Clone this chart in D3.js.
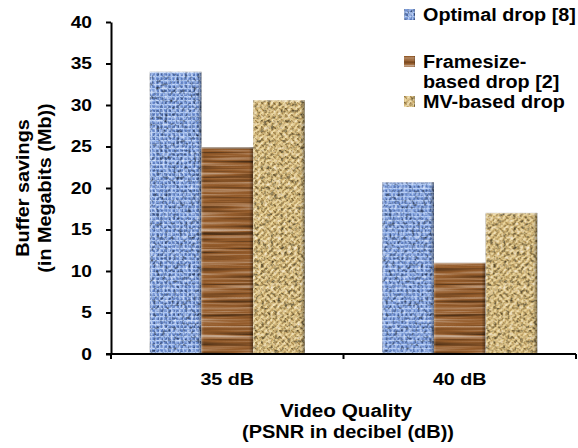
<!DOCTYPE html>
<html>
<head>
<meta charset="utf-8">
<script src="https://cdn.jsdelivr.net/npm/d3@7/dist/d3.min.js"></script>
<style>
  html, body { margin: 0; padding: 0; background: #fff; }
  svg { display: block; }
  text { font-family: "Liberation Sans", Arial, sans-serif; font-weight: bold; fill: #000; }
</style>
</head>
<body>
<svg id="chart" width="578" height="448"></svg>
<script>
// Buffer savings per drop strategy at two video quality levels
const categories = ["35 dB", "40 dB"];
const seriesNames = ["Optimal drop [8]", "Framesize-based drop [2]", "MV-based drop"];
const optimalDrop = [34.0, 20.7];
const framesizeDrop = [24.9, 11.0];
const mvDrop = [30.6, 17.0];
const yTicks = [0, 5, 10, 15, 20, 25, 30, 35, 40];
const legendLines = [["Optimal drop [8]"], ["Framesize-", "based drop [2]"], ["MV-based drop"]];

const seriesValues = [optimalDrop, framesizeDrop, mvDrop];

const svg = d3.select("#chart");
const W = 578, H = 448;
const margin = { left: 111, right: 2, top: 22, bottom: 94 };

// Widen a text run horizontally by a factor, keeping its anchor
function stretch(sel, k) {
  sel.each(function() {
    const n = this.getComputedTextLength();
    d3.select(this).attr("textLength", n * k).attr("lengthAdjust", "spacingAndGlyphs");
  });
}

const x0 = d3.scaleBand().domain(categories).range([margin.left, W - margin.right]).padding(0);
const x1 = d3.scaleBand().domain(d3.range(seriesNames.length)).range([0, x0.bandwidth()])
  .paddingInner(0).paddingOuter(0.75);
const y = d3.scaleLinear().domain([0, 40]).range([H - margin.bottom, margin.top]);

const defs = svg.append("defs");

// Woven blue cloth tile
const pBlue = defs.append("pattern").attr("id", "weaveBlue").attr("patternUnits", "userSpaceOnUse")
  .attr("width", 4).attr("height", 4);
pBlue.append("rect").attr("width", 4).attr("height", 4).attr("fill", "#7c9edf");
pBlue.append("rect").attr("x", 0).attr("y", 0).attr("width", 4).attr("height", 1).attr("fill", "#b0c9f3");
pBlue.append("rect").attr("x", 0).attr("y", 0).attr("width", 1).attr("height", 4).attr("fill", "#a2bcec");
pBlue.append("rect").attr("x", 2).attr("y", 2).attr("width", 2).attr("height", 2).attr("fill", "#5f80c4");

// Basket-weave burlap tile
const pTan = defs.append("pattern").attr("id", "weaveTan").attr("patternUnits", "userSpaceOnUse")
  .attr("width", 6).attr("height", 6);
pTan.append("rect").attr("width", 6).attr("height", 6).attr("fill", "#d4b676");
pTan.append("path").attr("d", "M0,6 L6,0 M-1,1 L1,-1 M5,7 L7,5").attr("stroke", "#ecd89c").attr("stroke-width", 1.4);
pTan.append("path").attr("d", "M0,0 L3,3").attr("stroke", "#a98a4e").attr("stroke-width", 1.2);
pTan.append("path").attr("d", "M3,6 L6,3").attr("stroke", "#bc9c5e").attr("stroke-width", 0.8);

const textures = [
  { id: "tex0", fill: "url(#weaveBlue)", freq: "0.35 0.3", oct: 2, seed: 4 },
  { id: "tex1", fill: "#955c2b", freq: "0.008 0.28", oct: 3, seed: 7 },
  { id: "tex2", fill: "url(#weaveTan)", freq: "0.3 0.3", oct: 2, seed: 11 }
];
textures.forEach(t => {
  const f = defs.append("filter").attr("id", t.id + "f")
    .attr("x", 0).attr("y", 0).attr("width", 1).attr("height", 1)
    .attr("color-interpolation-filters", "sRGB");
  f.append("feTurbulence").attr("type", "fractalNoise").attr("baseFrequency", t.freq)
    .attr("numOctaves", t.oct).attr("seed", t.seed).attr("result", "noise");
  f.append("feColorMatrix").attr("in", "noise").attr("type", "matrix")
    .attr("values", "0.7 0.3 0.1 0 -0.05  0.7 0.3 0.1 0 -0.05  0.7 0.3 0.1 0 -0.05  0 0 0 0 1")
    .attr("result", "gray");
  f.append("feBlend").attr("in", "SourceGraphic").attr("in2", "gray").attr("mode", "overlay").attr("result", "mix");
  f.append("feComposite").attr("in", "mix").attr("in2", "SourceGraphic").attr("operator", "in");
});

// Soft bevel shading on the bar edges
const edge = defs.append("linearGradient").attr("id", "edgeShade").attr("x1", 0).attr("x2", 1).attr("y1", 0).attr("y2", 0);
edge.append("stop").attr("offset", "0").attr("stop-color", "#fff").attr("stop-opacity", 0.2);
edge.append("stop").attr("offset", "0.05").attr("stop-color", "#fff").attr("stop-opacity", 0);
edge.append("stop").attr("offset", "0.92").attr("stop-color", "#000").attr("stop-opacity", 0);
edge.append("stop").attr("offset", "1").attr("stop-color", "#000").attr("stop-opacity", 0.4);

// Bars
const groups = svg.append("g").selectAll("g").data(categories).join("g")
  .attr("transform", d => `translate(${x0(d)},0)`);
groups.each(function(cat, ci) {
  const g = d3.select(this);
  seriesValues.forEach((vals, si) => {
    const bx = x1(si), bw = x1.bandwidth(), by = y(vals[ci]), bh = y(0) - y(vals[ci]);
    g.append("rect").attr("x", bx).attr("y", by).attr("width", bw).attr("height", bh)
      .attr("fill", textures[si].fill).attr("filter", `url(#${textures[si].id}f)`);
    g.append("rect").attr("x", bx).attr("y", by).attr("width", bw).attr("height", bh)
      .attr("fill", "url(#edgeShade)");
    g.append("rect").attr("x", bx).attr("y", by).attr("width", bw).attr("height", 1.5)
      .attr("fill", "#fff").attr("opacity", 0.35);
  });
});

// Y axis
const yAxis = svg.append("g").attr("transform", `translate(${margin.left},0)`)
  .call(d3.axisLeft(y).tickValues(yTicks).tickSize(5).tickPadding(14).tickSizeOuter(0));
yAxis.select(".domain").attr("stroke", "#000").attr("stroke-width", 2);
yAxis.selectAll(".tick line").attr("stroke", "#000").attr("stroke-width", 2);
yAxis.selectAll("text").attr("font-family", null).style("font-size", "16px");
stretch(yAxis.selectAll("text"), 1.2);

// X axis: baseline with ticks on category boundaries
const xAxis = svg.append("g").attr("transform", `translate(0,${y(0)})`);
xAxis.append("line").attr("x1", margin.left - 5).attr("x2", W - margin.right).attr("y1", 0).attr("y2", 0)
  .attr("stroke", "#000").attr("stroke-width", 2);
const bounds = categories.map(c => x0(c)).concat([x0(categories[categories.length - 1]) + x0.bandwidth()]);
xAxis.selectAll(".bt").data(bounds).join("line").attr("class", "bt")
  .attr("x1", d => d).attr("x2", d => d).attr("y1", 0).attr("y2", 5)
  .attr("stroke", "#000").attr("stroke-width", 2);
const catText = xAxis.selectAll(".cl").data(categories).join("text").attr("class", "cl")
  .attr("x", d => x0(d) + x0.bandwidth() / 2).attr("y", 31)
  .attr("text-anchor", "middle").style("font-size", "17px").text(d => d);
stretch(catText, 1.16);

// Axis titles
const xt = svg.append("text").attr("text-anchor", "middle").style("font-size", "18px");
const xt1 = xt.append("tspan").attr("x", 346).attr("y", 417).text("Video Quality");
const xt2 = xt.append("tspan").attr("x", 348).attr("y", 438).text("(PSNR in decibel (dB))");
stretch(xt1, 1.15);
stretch(xt2, 1.11);

const yt = svg.append("text").attr("text-anchor", "middle").style("font-size", "18px")
  .attr("transform", "translate(0,188) rotate(-90)");
yt.append("tspan").attr("x", 0).attr("y", 29).text("Buffer savings");
yt.append("tspan").attr("x", 0).attr("y", 51).text("(in Megabits (Mb))");
stretch(yt.selectAll("tspan"), 1.1);

// Legend
const legend = svg.append("g").attr("transform", "translate(404,0)");
const legendRows = [0, 47, 87];
legendLines.forEach((lines, i) => {
  const top = legendRows[i];
  legend.append("rect").attr("x", 0).attr("y", top + 9).attr("width", 11).attr("height", 11)
    .attr("fill", textures[i].fill).attr("filter", `url(#${textures[i].id}f)`);
  legend.append("rect").attr("x", 0).attr("y", top + 9).attr("width", 11).attr("height", 11)
    .attr("fill", "url(#edgeShade)");
  const t = legend.append("text").style("font-size", "18px");
  lines.forEach((ln, j) => t.append("tspan").attr("x", 19).attr("y", top + 21 + j * 20).text(ln));
  stretch(t.selectAll("tspan"), 1.1);
});
</script>
</body>
</html>
